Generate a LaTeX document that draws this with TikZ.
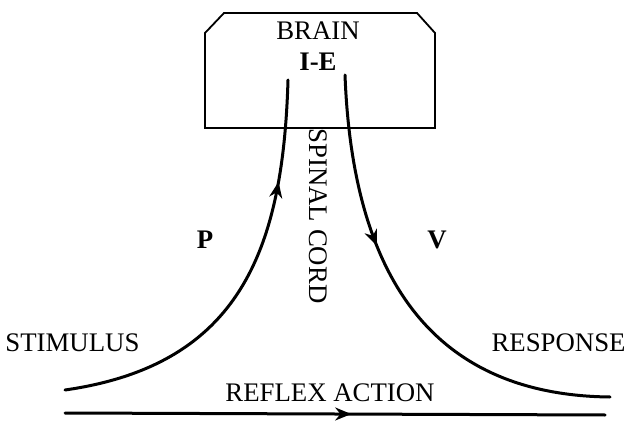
\documentclass[tikz,border=0pt]{standalone}
\usepackage{fontspec}
\setmainfont{Liberation Serif}
\usetikzlibrary{decorations.markings,arrows.meta}
\tikzset{
  lbl/.style={font=\fontsize{13.4}{15}\selectfont, inner sep=0pt},
  blbl/.style={font=\fontsize{13.4}{15}\selectfont\bfseries, inner sep=0pt},
  nerve/.style={line width=1.5pt, line cap=round},
  midarrow/.style={postaction={decorate},decoration={markings,mark=at position #1 with {\arrow{Stealth[length=8pt,width=6.5pt]}}}}
}
\begin{document}
\begin{tikzpicture}[x=0.5pt,y=-0.5pt]
\useasboundingbox (0,0) rectangle (630,421);
% brain box
\draw[line width=0.9pt] (205,33) -- (224,13) -- (417,13) -- (435,33) -- (435,128) -- (205,128) -- cycle;
\node[lbl] (brainlbl) at (318,31) {BRAIN};
\node[blbl] (ie) at (318,62) {I-E};
% endpoints
\coordinate (pstart) at (65,390);
\coordinate (pend) at (288,80);
\coordinate (vstart) at (345,75);
\coordinate (vend) at (610,397);
\coordinate (rstart) at (65,413);
\coordinate (rend) at (605,415);
% sensory curve
\draw[nerve, midarrow=0.76] (pstart) .. controls (240,365) and (283,250) .. (pend);
% motor curve
\draw[nerve, midarrow=0.37] (vstart) .. controls (352,260) and (420,395) .. (vend);
% reflex line
\draw[nerve, midarrow=0.53] (rstart) -- (rend);
% labels
\node[lbl, anchor=west] (stim) at (5,343) {STIMULUS};
\node[lbl, anchor=east] (resp) at (626,343) {RESPONSE};
\node[blbl] (P) at (205,240) {P};
\node[blbl] (V) at (437,240) {V};
\node[lbl, rotate=-90] (spinal) at (318,216) {SPINAL CORD};
\node[lbl] (reflex) at (330,393) {REFLEX ACTION};
\end{tikzpicture}
\end{document}
